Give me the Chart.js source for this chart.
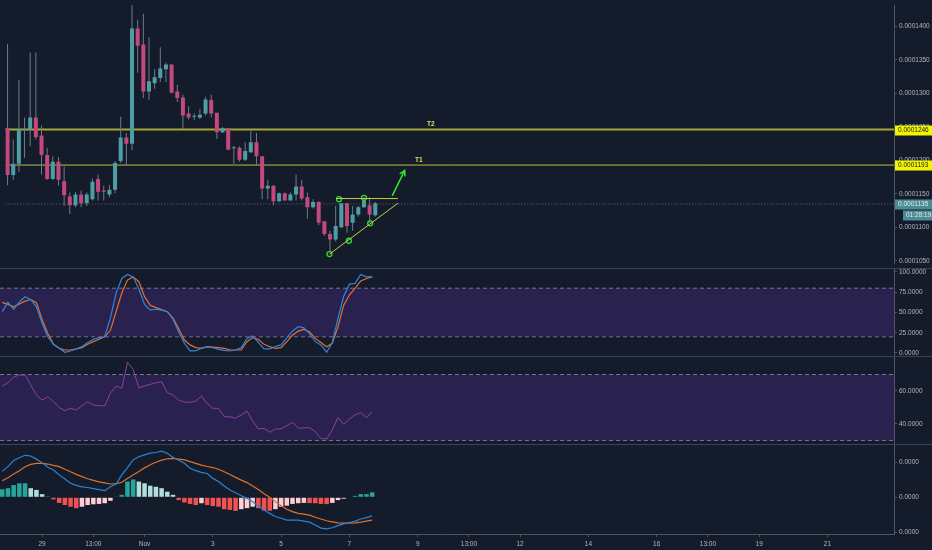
<!DOCTYPE html>
<html>
<head>
<meta charset="utf-8">
<title>4h chart with Stoch RSI, RSI and MACD</title>
<script src="https://cdn.jsdelivr.net/npm/chart.js@4.4.1/dist/chart.umd.min.js"></script>
<style>
  html, body { margin: 0; padding: 0; background: #141c2b; overflow: hidden; }
  #panes { position: relative; width: 932px; height: 550px; }
  #panes canvas { position: absolute; left: 0; }
</style>
</head>
<body>
<div id="panes">
  <canvas id="price" width="932" height="269" style="top:0"></canvas>
  <canvas id="stoch" width="932" height="88" style="top:269px"></canvas>
  <canvas id="rsi" width="932" height="88" style="top:357px"></canvas>
  <canvas id="macd" width="932" height="105" style="top:445px"></canvas>
</div>
<script>
// 4h candles
const opens = [
  0.0001248, 0.0001178, 0.0001195, 0.0001245, 0.0001247, 0.0001264, 0.0001237, 0.0001208, 0.0001172, 0.0001198,
  0.0001169, 0.0001146, 0.0001133, 0.0001149, 0.0001136, 0.0001142, 0.0001172, 0.0001155, 0.0001149, 0.0001156,
  0.0001199, 0.0001234, 0.0001225, 0.0001397, 0.0001373, 0.0001303, 0.0001315, 0.0001323, 0.0001336, 0.0001343,
  0.0001303, 0.0001294, 0.0001270, 0.0001265, 0.0001264, 0.0001270, 0.0001290, 0.0001271, 0.0001242, 0.0001248,
  0.0001218, 0.0001219, 0.0001201, 0.0001212, 0.0001227, 0.0001206, 0.0001158, 0.0001162, 0.0001139, 0.0001151,
  0.0001140, 0.0001149, 0.0001161, 0.0001145, 0.0001130, 0.0001138, 0.0001109, 0.0001090, 0.0001082, 0.0001100,
  0.0001136, 0.0001107, 0.0001119, 0.0001130, 0.0001133, 0.0001118
];
const highs = [
  0.0001374, 0.0001231, 0.0001320, 0.0001264, 0.0001361, 0.0001361, 0.0001252, 0.0001219, 0.0001206, 0.0001205,
  0.0001191, 0.0001152, 0.0001153, 0.0001155, 0.0001152, 0.0001173, 0.0001179, 0.0001162, 0.0001163, 0.0001199,
  0.0001265, 0.0001241, 0.0001439, 0.0001410, 0.0001419, 0.0001384, 0.0001336, 0.0001369, 0.0001346, 0.0001343,
  0.0001313, 0.0001298, 0.0001281, 0.0001270, 0.0001277, 0.0001295, 0.0001298, 0.0001271, 0.0001250, 0.0001248,
  0.0001222, 0.0001221, 0.0001227, 0.0001244, 0.0001241, 0.0001206, 0.0001171, 0.0001163, 0.0001152, 0.0001152,
  0.0001152, 0.0001179, 0.0001171, 0.0001152, 0.0001142, 0.0001139, 0.0001109, 0.0001095, 0.0001132, 0.0001136,
  0.0001136, 0.0001132, 0.0001132, 0.0001145, 0.0001145, 0.0001138
];
const lows = [
  0.0001163, 0.0001171, 0.0001183, 0.0001204, 0.0001221, 0.0001231, 0.0001179, 0.0001171, 0.0001171, 0.0001162,
  0.0001132, 0.0001120, 0.0001130, 0.0001130, 0.0001132, 0.0001140, 0.0001140, 0.0001140, 0.0001145, 0.0001151,
  0.0001196, 0.0001192, 0.0001215, 0.0001331, 0.0001293, 0.0001290, 0.0001307, 0.0001317, 0.0001317, 0.0001300,
  0.0001287, 0.0001247, 0.0001261, 0.0001260, 0.0001262, 0.0001267, 0.0001264, 0.0001232, 0.0001241, 0.0001215,
  0.0001195, 0.0001198, 0.0001199, 0.0001211, 0.0001192, 0.0001142, 0.0001142, 0.0001133, 0.0001138, 0.0001140,
  0.0001140, 0.0001140, 0.0001140, 0.0001113, 0.0001128, 0.0001103, 0.0001087, 0.0001063, 0.0001079, 0.0001099,
  0.0001092, 0.0001095, 0.0001116, 0.0001129, 0.0001106, 0.0001116
];
const closes = [
  0.0001178, 0.0001195, 0.0001245, 0.0001247, 0.0001264, 0.0001235, 0.0001208, 0.0001172, 0.0001198, 0.0001171,
  0.0001148, 0.0001133, 0.0001149, 0.0001136, 0.0001149, 0.0001168, 0.0001153, 0.0001153, 0.0001156, 0.0001196,
  0.0001234, 0.0001225, 0.0001397, 0.0001371, 0.0001303, 0.0001318, 0.0001324, 0.0001337, 0.0001343, 0.0001301,
  0.0001293, 0.0001267, 0.0001264, 0.0001265, 0.0001268, 0.0001291, 0.0001270, 0.0001242, 0.0001248, 0.0001216,
  0.0001219, 0.0001201, 0.0001214, 0.0001227, 0.0001206, 0.0001158, 0.0001162, 0.0001139, 0.0001151, 0.0001140,
  0.0001149, 0.0001161, 0.0001143, 0.0001130, 0.0001138, 0.0001107, 0.0001090, 0.0001082, 0.0001102, 0.0001136,
  0.0001102, 0.0001119, 0.0001130, 0.0001140, 0.0001119, 0.0001136
];

// Stoch RSI %K and %D
const stochK = [
  51, 62.5, 54, 63, 69.5, 66, 57, 36.6, 20, 10.7,
  5.8, 0.8, 2.5, 5, 7.8, 13, 17, 19, 20, 43,
  74, 92, 97, 94, 79, 60, 53, 54, 53, 51,
  42, 26, 12, 2.5, 2.5, 6, 7.4, 6.6, 4.5, 3.3,
  2.5, 3.7, 6.6, 18, 21, 13, 5, 5, 8, 10,
  19, 27, 32.5, 31, 24, 14, 10, 1, 13, 43,
  70, 85, 86, 97, 94, 94
];
const stochD = [
  62.5, 60, 57, 60.5, 64, 66, 62, 41, 24, 10.7,
  5.8, 3.7, 3.7, 5, 6.6, 10.7, 14, 17, 20, 28,
  51, 74, 90, 94, 88, 69.5, 59, 56, 53.5, 51,
  43, 30, 16, 10, 6.6, 5.8, 7.8, 7.4, 6.6, 5.8,
  4, 3.7, 3.7, 14, 19, 17, 10.7, 7.8, 5.8, 6.6,
  14, 22, 27, 29, 26, 18, 13, 7.8, 12, 32.5,
  59, 71.6, 80, 89, 92, 94
];

const rsi = [
  63, 65, 68.5, 69.7, 69.7, 63.6, 57.6, 54.5, 56.5, 53.5,
  49.9, 48.1, 49.5, 48.5, 51, 53.5, 51.5, 51, 51, 58.6,
  63, 61.6, 77.4, 73, 62, 63, 64, 65, 65.6, 59,
  57.6, 54.5, 53.3, 53.1, 53.9, 57, 52.5, 49.5, 49.5, 44.4,
  44.4, 43.5, 45.5, 47.9, 41.8, 37, 37.4, 35, 37, 37,
  39, 41, 37.4, 37.6, 37.8, 35.4, 31.2, 30.9, 36.4, 43.8,
  39.8, 43, 45.5, 47, 43.8, 47.5
];

// MACD values in units of 1e-7
const macdLine = [
  0.74, 0.875, 1.05, 1.13, 1.2, 1.18, 1.09, 0.99, 0.86, 0.78,
  0.64, 0.52, 0.4, 0.34, 0.3, 0.28, 0.25, 0.22, 0.19, 0.3,
  0.38, 0.64, 0.85, 1.07, 1.16, 1.21, 1.26, 1.28, 1.32, 1.26,
  1.14, 1.06, 0.97, 0.83, 0.76, 0.71, 0.68, 0.54, 0.45, 0.32,
  0.21, 0.13, 0.045, -0.03, -0.125, -0.25, -0.36, -0.46, -0.55, -0.6,
  -0.65, -0.65, -0.65, -0.68, -0.71, -0.79, -0.88, -0.9, -0.87, -0.81,
  -0.76, -0.72, -0.68, -0.62, -0.58, -0.53
];
const macdSignal = [
  0.475, 0.56, 0.665, 0.76, 0.875, 0.94, 0.97, 0.97, 0.95, 0.91,
  0.875, 0.8, 0.73, 0.655, 0.59, 0.53, 0.485, 0.44, 0.41, 0.38,
  0.39, 0.43, 0.54, 0.64, 0.74, 0.84, 0.93, 1.0, 1.06, 1.1,
  1.11, 1.09, 1.07, 1.02, 0.97, 0.92, 0.88, 0.85, 0.8, 0.73,
  0.65, 0.57, 0.49, 0.42, 0.32, 0.22, 0.1, 0.0, -0.125, -0.24,
  -0.34, -0.41, -0.46, -0.48, -0.51, -0.57, -0.62, -0.67, -0.7, -0.73,
  -0.74, -0.74, -0.73, -0.71, -0.68, -0.65
];
const macdHist = [
  0.23, 0.26, 0.35, 0.4, 0.4, 0.26, 0.21, 0.09, 0.02, -0.06,
  -0.16, -0.22, -0.27, -0.31, -0.27, -0.22, -0.2, -0.19, -0.17, -0.1,
  0.01, 0.07, 0.45, 0.51, 0.45, 0.4, 0.33, 0.3, 0.26, 0.16,
  0.07, -0.08, -0.15, -0.19, -0.22, -0.17, -0.22, -0.25, -0.27, -0.34,
  -0.36, -0.39, -0.34, -0.31, -0.27, -0.31, -0.38, -0.385, -0.34, -0.27,
  -0.24, -0.19, -0.17, -0.16, -0.165, -0.17, -0.19, -0.195, -0.16, -0.08,
  -0.04, 0, 0.04, 0.09, 0.09, 0.14
];

// levels and drawings on the price pane (x = candle number)
const t2Level = 0.0001246;
const t1Level = 0.0001193;
const lastPrice = 0.0001135;
const countdown = '01:28:19';
const levelTags = [{ text: 'T2', x: 74.8, y: t2Level }, { text: 'T1', x: 72.7, y: t1Level }];
const triangleTop = [[58.1, 0.0001143], [69.0, 0.0001143]];
const triangleBase = [[56.9, 0.0001060], [69.0, 0.0001136]];
const breakoutArrow = [[68.0, 0.0001147], [70.2, 0.0001185]];
const touchMarks = [[56.9, 0.0001060], [60.35, 0.0001080], [64.1, 0.0001106], [58.6, 0.0001142], [63.0, 0.0001144]];

const stochBand = [20, 80];
const rsiBand = [30, 70];

// axes
const priceTicks = [0.000105, 0.00011, 0.000115, 0.00012, 0.000125, 0.00013, 0.000135, 0.00014];
const stochTicks = [0, 25, 50, 75, 100];
const rsiTicks = [40, 60];
const macdTicks = [-1, 0, 1];
const xTickPos = [7, 16, 25, 37, 49, 61, 73, 82, 91, 103, 115, 124, 133, 145];
const xTickLabels = ['29', '13:00', 'Nov', '3', '5', '7', '9', '13:00', '12', '14', '16', '13:00', '19', '21'];

const X_MIN = -0.4, X_MAX = 156.7;
const FONT = '"Liberation Sans", Arial, sans-serif';
const TEXT = '#b2b5be';
const AXIS = '#4c5566';
const SEP = '#3a4354';
const UP = '#4e9ea5';
const DOWN = '#c4487f';
const WICK = '#6f7a8a';
const BAND = 'rgba(120, 60, 210, 0.22)';
const DASH = 'rgba(180, 180, 205, 0.6)';

const idx = opens.map((_, i) => i);
const pts = arr => arr.map((v, i) => ({ x: i, y: v }));
const xy = arr => arr.map(p => ({ x: p[0], y: p[1] }));
const flat = v => [{ x: X_MIN, y: v }, { x: X_MAX, y: v }];
const fmtPrice = v => v.toFixed(7);
const setXTicks = s => { s.ticks = xTickPos.map(v => ({ value: v })); };

function xAxis(show) {
  if (!show) {
    return { type: 'linear', display: false, min: X_MIN, max: X_MAX, offset: false, bounds: 'data', afterBuildTicks: setXTicks };
  }
  return {
    type: 'linear', min: X_MIN, max: X_MAX, offset: false, bounds: 'data',
    afterBuildTicks: setXTicks,
    afterFit: s => { s.height = 16; s.paddingLeft = 0; s.paddingRight = 0; },
    ticks: { color: TEXT, font: { family: FONT, size: 6.5 }, padding: 3, maxRotation: 0, autoSkip: false,
             callback: (v, i) => xTickLabels[i] },
    grid: { drawOnChartArea: false, drawTicks: true, tickLength: 3, color: AXIS, offset: false },
    border: { display: true, color: AXIS }
  };
}

function yAxis(min, max, ticks, fmt) {
  return {
    position: 'right', min, max, bounds: 'data',
    afterBuildTicks: s => { s.ticks = ticks.map(v => ({ value: v })); },
    afterFit: s => { s.width = 38; s.paddingTop = 0; s.paddingBottom = 0; },
    ticks: { color: TEXT, font: { family: FONT, size: 6.5 }, padding: 2, autoSkip: false, callback: fmt },
    grid: { drawOnChartArea: false, drawTicks: true, tickLength: 3, color: AXIS },
    border: { display: true, color: AXIS }
  };
}

const baseOptions = {
  responsive: false,
  animation: false,
  events: [],
  layout: { padding: 0 },
  plugins: { legend: { display: false }, tooltip: { enabled: false } }
};

const paneLine = {
  id: 'paneLine',
  afterDraw(chart) {
    const { ctx } = chart;
    ctx.save();
    ctx.strokeStyle = SEP;
    ctx.lineWidth = 1;
    ctx.beginPath();
    ctx.moveTo(0, chart.height - 0.5);
    ctx.lineTo(chart.width, chart.height - 0.5);
    ctx.stroke();
    ctx.restore();
  }
};

const priceExtras = {
  id: 'priceExtras',
  afterDatasetsDraw(chart) {
    const { ctx, scales: { x, y } } = chart;
    ctx.save();
    // T1 / T2 captions
    ctx.font = 'bold 6.5px ' + FONT;
    ctx.fillStyle = '#e2dc5a';
    ctx.textAlign = 'center';
    ctx.textBaseline = 'bottom';
    levelTags.forEach(t => ctx.fillText(t.text, x.getPixelForValue(t.x), y.getPixelForValue(t.y) - 2));
    // arrow head
    const [a, b] = breakoutArrow;
    const x0 = x.getPixelForValue(a[0]), y0 = y.getPixelForValue(a[1]);
    const x1 = x.getPixelForValue(b[0]), y1 = y.getPixelForValue(b[1]);
    const ang = Math.atan2(y1 - y0, x1 - x0);
    ctx.strokeStyle = '#2ee62e';
    ctx.lineWidth = 1.5;
    ctx.beginPath();
    ctx.moveTo(x1 - 6 * Math.cos(ang - 0.5), y1 - 6 * Math.sin(ang - 0.5));
    ctx.lineTo(x1, y1);
    ctx.lineTo(x1 - 6 * Math.cos(ang + 0.5), y1 - 6 * Math.sin(ang + 0.5));
    ctx.stroke();
    ctx.restore();
  },
  afterDraw(chart) {
    const { ctx, scales: { y } } = chart;
    const left = y.left + 1;
    ctx.save();
    ctx.font = '6.5px ' + FONT;
    ctx.textBaseline = 'middle';
    const tag = (v, bg, fg, x0, text, shift) => {
      const py = Math.round(y.getPixelForValue(v)) + (shift || 0);
      ctx.fillStyle = bg;
      ctx.fillRect(x0, py - 4.5, chart.width - x0, 10);
      ctx.fillStyle = fg;
      ctx.fillText(text, x0 + 3, py + 0.5);
    };
    tag(t2Level, '#f4f400', '#131722', left, fmtPrice(t2Level));
    tag(t1Level, '#f4f400', '#131722', left, fmtPrice(t1Level));
    tag(lastPrice, '#4b8b94', '#e3eaee', left, fmtPrice(lastPrice));
    tag(lastPrice, '#4b8b94', '#e3eaee', left + 8, countdown, 11);
    ctx.restore();
  }
};

// price pane
new Chart(document.getElementById('price'), {
  type: 'bar',
  data: {
    datasets: [
      { type: 'line', data: xy(triangleTop), borderColor: '#c8cc3c', borderWidth: 1, pointRadius: 0, order: 0 },
      { type: 'line', data: xy(triangleBase), borderColor: '#c8cc3c', borderWidth: 1, pointRadius: 0, order: 0 },
      { type: 'line', data: xy(breakoutArrow), borderColor: '#2ee62e', borderWidth: 1.5, pointRadius: 0, order: 0 },
      { type: 'line', data: xy(touchMarks), showLine: false, pointRadius: 2.5, pointBorderWidth: 1.3,
        pointBorderColor: '#2fd82f', pointBackgroundColor: 'rgba(0,0,0,0)', order: 0 },
      { data: idx.map(i => ({ x: i, y: [opens[i], closes[i]] })), grouped: false, maxBarThickness: 4, minBarLength: 1,
        backgroundColor: idx.map(i => closes[i] >= opens[i] ? UP : DOWN), order: 1 },
      { data: idx.map(i => ({ x: i, y: [lows[i], highs[i]] })), grouped: false, maxBarThickness: 1,
        backgroundColor: WICK, order: 2 },
      { type: 'line', data: flat(t2Level), borderColor: '#a6a836', borderWidth: 2, pointRadius: 0, order: 3 },
      { type: 'line', data: flat(t1Level), borderColor: '#bcbe3e', borderWidth: 1, pointRadius: 0, order: 3 },
      { type: 'line', data: flat(lastPrice), borderColor: '#5f6979', borderWidth: 1, borderDash: [1, 2], pointRadius: 0, order: 4 }
    ]
  },
  options: { ...baseOptions, scales: { x: xAxis(false), y: yAxis(0.00010457, 0.000143156, priceTicks, fmtPrice) } },
  plugins: [paneLine, priceExtras]
});

// Stoch RSI pane
new Chart(document.getElementById('stoch'), {
  type: 'line',
  data: {
    datasets: [
      { data: pts(stochK), borderColor: '#2e86de', borderWidth: 1.2, pointRadius: 0, order: 0 },
      { data: pts(stochD), borderColor: '#e6702c', borderWidth: 1.2, pointRadius: 0, order: 1 },
      { data: flat(stochBand[1]), borderColor: DASH, borderDash: [4, 3], borderWidth: 1, pointRadius: 0,
        fill: { value: stochBand[0] }, backgroundColor: BAND, order: 5 },
      { data: flat(stochBand[0]), borderColor: DASH, borderDash: [4, 3], borderWidth: 1, pointRadius: 0, order: 5 }
    ]
  },
  options: { ...baseOptions, scales: { x: xAxis(false), y: yAxis(-4.94, 103.7, stochTicks, v => v.toFixed(4)) } },
  plugins: [paneLine]
});

// RSI pane
new Chart(document.getElementById('rsi'), {
  type: 'line',
  data: {
    datasets: [
      { data: pts(rsi), borderColor: '#913f9f', borderWidth: 1, pointRadius: 0, order: 0 },
      { data: flat(rsiBand[1]), borderColor: DASH, borderDash: [4, 3], borderWidth: 1, pointRadius: 0,
        fill: { value: rsiBand[0] }, backgroundColor: BAND, order: 5 },
      { data: flat(rsiBand[0]), borderColor: DASH, borderDash: [4, 3], borderWidth: 1, pointRadius: 0, order: 5 }
    ]
  },
  options: { ...baseOptions, scales: { x: xAxis(false), y: yAxis(27.27, 80.6, rsiTicks, v => v.toFixed(4)) } },
  plugins: [paneLine]
});

// MACD pane
const histColors = macdHist.map((v, i) => {
  const prev = i ? macdHist[i - 1] : v;
  if (v >= 0) return v >= prev ? '#26a69a' : '#b2dfdb';
  return v < prev ? '#f05252' : '#ffcdd2';
});

new Chart(document.getElementById('macd'), {
  type: 'bar',
  data: {
    datasets: [
      { type: 'line', data: pts(macdLine), borderColor: '#2a83d6', borderWidth: 1.2, pointRadius: 0, order: 0 },
      { type: 'line', data: pts(macdSignal), borderColor: '#e0702c', borderWidth: 1.2, pointRadius: 0, order: 1 },
      { data: pts(macdHist), grouped: false, maxBarThickness: 4.5, categoryPercentage: 1, barPercentage: 0.8,
        backgroundColor: histColors, order: 2 }
    ]
  },
  options: {
    ...baseOptions,
    scales: { x: xAxis(true), y: yAxis(-1.049, 1.494, macdTicks, v => (v * 1e-7).toFixed(4).replace('-', '')) }
  }
});
</script>
</body>
</html>
